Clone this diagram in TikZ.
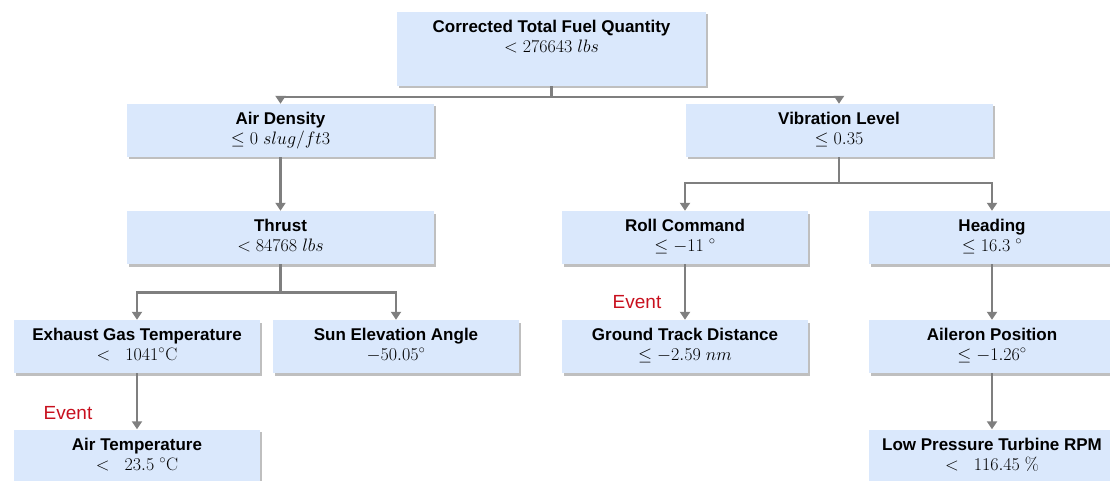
\RequirePackage{fix-cm}
\documentclass[tikz,border=0pt]{standalone}
\usepackage[no-math]{fontspec}
\setmainfont{Liberation Sans}
\usetikzlibrary{arrows.meta,shadows}
\definecolor{boxblue}{RGB}{218,232,252}
\definecolor{linegray}{RGB}{127,127,127}
\definecolor{eventred}{RGB}{200,16,30}
% two-line node content: bold title over a math value, optionally raised
\newcommand\boxtext[3][0pt]{\raisebox{#1}[\height][\depth]{%
  \fontsize{17}{20}\selectfont
  \begin{tabular}{@{}c@{}}%
  \fontsize{17}{20}\selectfont\bfseries #2\\
  \fontsize{18}{20}\selectfont #3\end{tabular}}}
\begin{document}
\begin{tikzpicture}[x=1pt,y=-1pt,
  box/.style={fill=boxblue, minimum height=53pt, inner sep=0pt,
    drop shadow={shadow xshift=2.2pt,shadow yshift=-2.5pt,fill=black,opacity=0.25}},
  widebox/.style={box,minimum width=307pt},
  narrowbox/.style={box,minimum width=246pt},
  conn/.style={draw=linegray,line width=2.6pt,-{Triangle[length=8pt,width=10pt]}},
  eventlabel/.style={text=eventred,font=\fontsize{19}{21}\selectfont}]
\useasboundingbox (0,0) rectangle (1110,481);
\clip (0,0) rectangle (1110,481);

% decision nodes
\node[box,minimum width=309pt,minimum height=74pt] (root) at (551.5,49)
  {\boxtext[10pt]{Corrected Total Fuel Quantity}{$<276643\ lbs$}};
\node[widebox] (ad) at (280.5,130.5) {\boxtext{Air Density}{$\leq 0\ slug/ft3$}};
\node[widebox] (vib) at (839,130.5) {\boxtext{Vibration Level}{$\leq 0.35$}};
\node[widebox] (thr) at (280.5,237.5) {\boxtext{Thrust}{$<84768\ lbs$}};
\node[narrowbox] (egt) at (137,346.5) {\boxtext{Exhaust Gas Temperature}{$<\ \ 1041{}^{\circ}\mathrm{C}$}};
\node[narrowbox] (sun) at (396,346.5) {\boxtext{Sun Elevation Angle}{$-50.05^{\circ}$}};
\node[narrowbox] (airt) at (137,456) {\boxtext{Air Temperature}{$<\ \ 23.5\ {}^{\circ}\mathrm{C}$}};
\node[narrowbox] (roll) at (685,237.5) {\boxtext{Roll Command}{$\leq -11\ {}^{\circ}$}};
\node[narrowbox] (head) at (992,237.5) {\boxtext{Heading}{$\leq 16.3\ {}^{\circ}$}};
\node[narrowbox] (gtd) at (685,346.5) {\boxtext{Ground Track Distance}{$\leq -2.59\ nm$}};
\node[narrowbox] (ail) at (992,346.5) {\boxtext{Aileron Position}{$\leq -1.26^{\circ}$}};
\node[narrowbox] (lpt) at (992,456) {\boxtext{Low Pressure Turbine RPM}{$<\ \ 116.45\ \%$}};

% event markers
\node[eventlabel] (ev1) at (68,413) {Event};
\node[eventlabel] (ev2) at (637,302) {Event};

% connectors
\draw[conn] (root.south) -- ++(0,11) -| (ad.north);
\draw[conn] (root.south) -- ++(0,11) -| (vib.north);
\draw[conn] (ad.south) -- (thr.north);
\draw[conn] (thr.south) -- ++(0,28) -| (egt.north);
\draw[conn] (thr.south) -- ++(0,28) -| (sun.north);
\draw[conn] (egt.south) -- (airt.north);
\draw[conn] (vib.south) -- ++(0,26) -| (roll.north);
\draw[conn] (vib.south) -- ++(0,26) -| (head.north);
\draw[conn] (roll.south) -- (gtd.north);
\draw[conn] (head.south) -- (ail.north);
\draw[conn] (ail.south) -- (lpt.north);
\end{tikzpicture}
\end{document}
